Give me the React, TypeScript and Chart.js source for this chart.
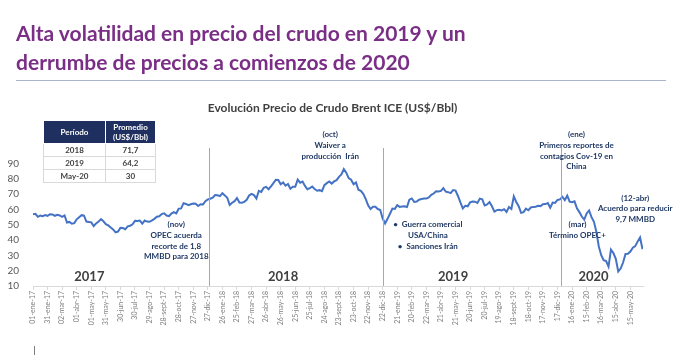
import React, { useEffect, useRef } from 'react';
import { Chart, registerables } from 'chart.js';

Chart.register(...registerables);

const FONT = "Lato, 'Open Sans', sans-serif";
const NAVY = '#1F3864';
const SAMPLE_STEP_DAYS = 5;

// Brent ICE (US$/Bbl), one reading every 5 days, starting 01-ene-17
const prices2017 = [
  56.8, 57.1, 55.1, 55.9, 55.5, 56.2, 55.7, 56.8, 56.7, 55.8, 56.4, 56.0, 55.1, 56.0, 51.4, 51.8, 50.6, 51.0,
  53.5, 54.9, 56.2, 55.9, 52.0, 51.8, 51.5, 49.1, 50.8, 52.0, 53.6, 52.2, 50.3, 49.5, 48.2, 46.9, 45.0, 45.5,
  47.9, 47.8, 47.0, 48.9, 49.3, 50.2, 52.5, 52.4, 52.7, 50.7, 52.7, 52.0, 51.9, 52.8, 53.8, 55.2, 55.5, 56.9,
  57.4, 56.0, 55.6, 57.2, 58.2, 57.4, 60.4, 60.6, 64.0, 63.5, 62.7, 63.3, 63.8, 63.7, 62.2, 63.3, 63.2, 65.3, 66.4,
];
const prices2018 = [
  66.9, 67.6, 69.3, 69.2, 68.6, 70.5, 69.1, 67.6, 62.8, 64.3, 65.3, 67.3, 64.4, 64.3, 64.9, 66.2, 69.0, 70.1,
  69.3, 67.1, 72.1, 71.4, 74.1, 74.7, 73.1, 75.0, 77.1, 79.3, 79.2, 76.4, 77.6, 75.4, 76.5, 73.4, 74.7, 74.7,
  79.4, 77.4, 78.1, 75.3, 73.1, 73.9, 74.9, 73.2, 72.1, 72.5, 71.8, 75.8, 77.1, 78.2, 76.8, 78.2, 79.0, 81.2,
  82.7, 86.3, 83.9, 80.4, 79.3, 76.4, 77.6, 72.8, 72.1, 70.1, 66.8, 62.6, 60.2, 61.7, 61.7, 60.2, 59.6, 54.0, 50.8,
];
const prices2019 = [
  53.8, 57.1, 60.5, 60.3, 62.7, 61.6, 61.9, 62.0, 61.5, 66.3, 67.1, 64.8, 65.1, 66.3, 66.7, 67.1, 67.0, 67.8,
  69.4, 70.3, 71.8, 71.7, 72.0, 73.8, 71.5, 71.2, 70.6, 72.6, 72.2, 68.7, 64.5, 60.6, 62.3, 62.0, 64.5, 65.1,
  65.0, 64.2, 67.0, 66.5, 62.5, 63.2, 64.7, 62.0, 58.5, 59.5, 59.7, 59.3, 60.1, 58.3, 61.5, 60.2, 68.5, 64.8,
  62.0, 57.7, 58.2, 60.5, 59.4, 61.2, 61.6, 61.7, 62.3, 62.1, 63.3, 63.4, 64.1, 61.0, 64.4, 64.2, 66.1, 66.5, 68.2,
];
const prices2020 = [
  66.0, 68.9, 65.0, 64.6, 65.2, 60.7, 58.2, 55.3, 53.3, 57.3, 59.3, 54.9, 51.9, 45.3, 35.8, 30.1, 26.9, 26.3,
  22.7, 33.7, 31.5, 27.7, 19.5, 21.4, 25.3, 30.9, 31.0, 32.5, 35.0, 36.0, 39.0, 41.6, 34.0,
];

const tickDays = [
  0, 30, 60, 90, 120, 150, 180, 210, 240, 270, 300, 330, 360, 390, 420, 450, 480, 510, 540, 570, 600, 630, 660,
  690, 720, 750, 780, 810, 840, 870, 900, 930, 960, 990, 1020, 1050, 1080, 1110, 1140, 1170, 1200, 1230,
];
const tickLabels = [
  '01-ene-17', '31-ene-17', '02-mar-17', '01-abr-17', '01-may-17', '31-may-17', '30-jun-17', '30-jul-17',
  '29-ago-17', '28-sept-17', '28-oct-17', '27-nov-17', '27-dic-17', '26-ene-18', '25-feb-18', '27-mar-18',
  '26-abr-18', '26-may-18', '25-jun-18', '25-jul-18', '24-ago-18', '23-sept-18', '23-oct-18', '22-nov-18',
  '22-dic-18', '21-ene-19', '20-feb-19', '22-mar-19', '21-abr-19', '21-may-19', '20-jun-19', '20-jul-19',
  '19-ago-19', '18-sept-19', '18-oct-19', '17-nov-19', '17-dic-19', '16-ene-20', '15-feb-20', '16-mar-20',
  '15-abr-20', '15-may-20',
];

const yearLabels = ['2017', '2018', '2019', '2020'];
const yearLabelDays = [116, 515, 865, 1154];
const yearSeparatorDays = [362, 720, 1088];

const tableHeader = ['Período', 'Promedio (US$/Bbl)'];
const tablePeriods = ['2018', '2019', 'May-20'];
const tableAverages = ['71,7', '64,2', '30'];

const noteDays = [295, 612, 1119, 813, 1121, 1240];
const noteValues = [50, 108.7, 108.7, 50, 50, 67.4];
const noteTexts = [
  ['(nov)', 'OPEC acuerda', 'recorte de 1,8', 'MMBD para 2018'],
  ['(oct)', 'Waiver a', 'producción  Irán'],
  ['(ene)', 'Primeros reportes de', 'contagios Cov-19 en', 'China'],
  ['•  Guerra comercial', 'USA/China', '•  Sanciones Irán'],
  ['(mar)', 'Término OPEC+'],
  ['(12-abr)', 'Acuerdo para reducir', '9,7 MMBD'],
];

const allPrices = [...prices2017, ...prices2018, ...prices2019, ...prices2020];
const points = allPrices.map((v, i) => ({ x: i * SAMPLE_STEP_DAYS, y: v }));

const overlayPlugin = {
  id: 'overlay',
  afterDatasetsDraw(chart: any) {
    const { ctx, scales } = chart;
    const xs = scales.x;
    const ys = scales.y;
    ctx.save();
    // year separators
    ctx.strokeStyle = '#8FAADC';
    ctx.lineWidth = 1;
    yearSeparatorDays.forEach((d) => {
      const px = Math.round(xs.getPixelForValue(d)) + 0.5;
      ctx.beginPath();
      ctx.moveTo(px, ys.getPixelForValue(100));
      ctx.lineTo(px, ys.getPixelForValue(10));
      ctx.stroke();
    });
    // year labels
    ctx.fillStyle = '#404040';
    ctx.font = `bold 13px ${FONT}`;
    ctx.textAlign = 'center';
    ctx.textBaseline = 'middle';
    yearLabels.forEach((t, i) => {
      ctx.fillText(t, xs.getPixelForValue(yearLabelDays[i]), ys.getPixelForValue(15.8));
    });
    // notes
    ctx.fillStyle = NAVY;
    ctx.font = `bold 8px ${FONT}`;
    noteTexts.forEach((lines, i) => {
      const cx = xs.getPixelForValue(noteDays[i]);
      const cy = ys.getPixelForValue(noteValues[i]);
      lines.forEach((line, j) => {
        ctx.fillText(line, cx, cy + j * 10.7);
      });
    });
    ctx.restore();
  },
};

export default function App() {
  const canvasRef = useRef<HTMLCanvasElement | null>(null);

  useEffect(() => {
    if (!canvasRef.current) return;
    const chart = new Chart(canvasRef.current, {
      type: 'line',
      data: {
        datasets: [
          {
            data: points,
            borderColor: '#4472C4',
            borderWidth: 2,
            pointRadius: 0,
            tension: 0,
            fill: false,
          },
        ],
      },
      options: {
        animation: false,
        responsive: false,
        devicePixelRatio: 1,
        parsing: false as any,
        layout: { padding: { top: 148, left: 0, right: 37, bottom: 0 } },
        plugins: { legend: { display: false }, tooltip: { enabled: false }, title: { display: false } },
        scales: {
          x: {
            type: 'linear',
            min: 0,
            max: 1256,
            afterBuildTicks: (scale: any) => {
              scale.ticks = tickDays.map((v) => ({ value: v }));
            },
            afterFit: (scale: any) => {
              scale.height = 71;
            },
            grid: { display: true, drawOnChartArea: false, drawTicks: true, tickLength: 4, color: '#D9D9D9' },
            border: { display: true, color: '#D9D9D9' },
            ticks: {
              autoSkip: false,
              minRotation: 90,
              maxRotation: 90,
              padding: 1,
              color: '#7F7F7F',
              font: { family: FONT, size: 7 },
              callback: (v: any) => {
                const idx = tickDays.indexOf(Number(v));
                return idx >= 0 ? tickLabels[idx] : '';
              },
            },
          },
          y: {
            min: 10,
            max: 100,
            afterFit: (scale: any) => {
              scale.width = 33;
            },
            grid: { display: false },
            border: { display: false },
            ticks: {
              stepSize: 10,
              padding: 6,
              color: '#595959',
              font: { family: FONT, size: 10 },
              callback: (v: any) => (Number(v) === 100 ? '' : String(v)),
            },
          },
        },
      },
      plugins: [overlayPlugin],
    });
    return () => chart.destroy();
  }, []);

  const cell: React.CSSProperties = {
    border: '1px solid #D9D9D9',
    textAlign: 'center',
    fontSize: 8,
    fontWeight: 700,
    color: '#404040',
    height: 12,
    padding: 0,
  };
  const head: React.CSSProperties = {
    background: '#1F2F5F',
    color: '#FFFFFF',
    fontSize: 8,
    fontWeight: 700,
    textAlign: 'center',
    border: '1px solid #FFFFFF',
    padding: 0,
    lineHeight: '10px',
  };

  return (
    <div
      style={{
        position: 'fixed',
        left: 0,
        top: 0,
        width: 680,
        height: 357,
        background: '#FFFFFF',
        fontFamily: FONT,
        overflow: 'hidden',
      }}
    >
      <canvas ref={canvasRef} width={680} height={357} style={{ position: 'absolute', left: 0, top: 0 }} />
      <div
        style={{
          position: 'absolute',
          left: 16,
          top: 18,
          color: '#7A2E86',
          fontWeight: 700,
          fontSize: 21,
          lineHeight: '29px',
          whiteSpace: 'nowrap',
        }}
      >
        Alta volatilidad en precio del crudo en 2019 y un
        <br />
        derrumbe de precios a comienzos de 2020
      </div>
      <div style={{ position: 'absolute', left: 16, top: 80, width: 650, height: 1, background: '#A9B4CC' }} />
      <div
        style={{
          position: 'absolute',
          left: 0,
          width: 665,
          top: 100,
          textAlign: 'center',
          color: '#404040',
          fontWeight: 700,
          fontSize: 12,
          whiteSpace: 'nowrap',
        }}
      >
        Evolución Precio de Crudo Brent ICE (US$/Bbl)
      </div>
      <table
        style={{
          position: 'absolute',
          left: 43,
          top: 120,
          width: 113,
          borderCollapse: 'collapse',
          fontFamily: FONT,
        }}
      >
        <tbody>
          <tr style={{ height: 23 }}>
            <td style={{ ...head, width: 61 }}>{tableHeader[0]}</td>
            <td style={head}>
              Promedio
              <br />
              (US$/Bbl)
            </td>
          </tr>
          {tablePeriods.map((p, i) => (
            <tr key={p}>
              <td style={cell}>{p}</td>
              <td style={cell}>{tableAverages[i]}</td>
            </tr>
          ))}
        </tbody>
      </table>
      <div style={{ position: 'absolute', left: 34, top: 346, width: 1, height: 9, background: '#7F7F7F' }} />
    </div>
  );
}
